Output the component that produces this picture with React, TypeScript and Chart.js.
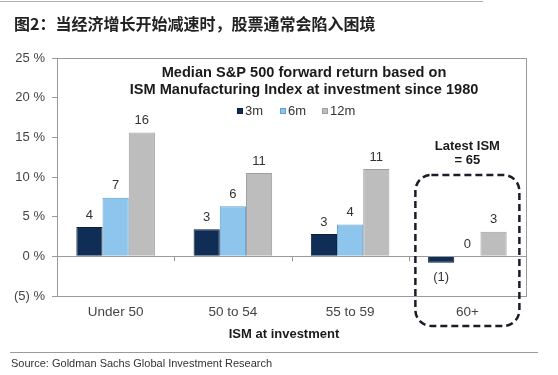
import React, { useEffect, useRef } from "react";
import { Chart, registerables } from "chart.js";

Chart.register(...registerables);

const categories = ["Under 50", "50 to 54", "55 to 59", "60+"];
const seriesNames = ["3m", "6m", "12m"];
const values3m = [3.7, 3.4, 2.8, -0.8];
const values6m = [7.4, 6.3, 4.0, 0];
const values12m = [15.6, 10.5, 11.0, 3.1];
const labels3m = ["4", "3", "3", "(1)"];
const labels6m = ["7", "6", "4", "0"];
const labels12m = ["16", "11", "11", "3"];
const yTicks = [-5, 0, 5, 10, 15, 20, 25];

const headTitle = "图2：当经济增长开始减速时，股票通常会陷入困境";
const chartTitle = ["Median S&P 500 forward return based on", "ISM Manufacturing Index at investment since 1980"];
const xTitle = "ISM at investment";
const calloutText = ["Latest ISM", "= 65"];
const sourceText = "Source: Goldman Sachs Global Investment Research";

const FONT = "'Liberation Sans', Arial, sans-serif";
const fills = ["#0f2d55", "#8ec5ec", "#bdbdbd"];
const borders = ["#0a1f3d", "#5f9fd2", "#9e9e9e"];
const allLabels = [labels3m, labels6m, labels12m];

const decorPlugin = {
  id: "decor",
  beforeDraw(chart: any) {
    const ctx = chart.ctx;
    ctx.save();
    ctx.fillStyle = "#ffffff";
    ctx.fillRect(0, 0, chart.width, chart.height);
    ctx.restore();
  },
  afterDatasetsDraw(chart: any) {
    const ctx = chart.ctx;
    const a = chart.chartArea;
    const yS = chart.scales.y;
    const xS = chart.scales.x;
    const zeroY = yS.getPixelForValue(0);
    ctx.save();
    // plot frame
    ctx.strokeStyle = "#9a9a9a";
    ctx.lineWidth = 1;
    ctx.strokeRect(a.left + 0.5, a.top + 0.5, a.right - a.left, a.bottom - a.top);
    // zero line
    ctx.beginPath();
    ctx.moveTo(a.left, Math.round(zeroY) + 0.5);
    ctx.lineTo(a.right, Math.round(zeroY) + 0.5);
    ctx.stroke();
    // category boundary ticks on zero line
    const n = categories.length;
    const cw = (a.right - a.left) / n;
    for (let i = 1; i < n; i++) {
      const x = Math.round(a.left + cw * i) + 0.5;
      ctx.beginPath();
      ctx.moveTo(x, zeroY);
      ctx.lineTo(x, zeroY + 5);
      ctx.stroke();
    }
    // data labels
    ctx.fillStyle = "#333333";
    ctx.font = `13px ${FONT}`;
    ctx.textAlign = "center";
    ctx.textBaseline = "middle";
    chart.data.datasets.forEach((ds: any, di: number) => {
      const meta = chart.getDatasetMeta(di);
      meta.data.forEach((bar: any, i: number) => {
        const v = ds.data[i];
        const txt = allLabels[di][i];
        if (v < 0) ctx.fillText(txt, bar.x, bar.y + 15);
        else ctx.fillText(txt, bar.x, bar.y - 12);
      });
    });
    // chart title in plot
    ctx.fillStyle = "#1a1a1a";
    ctx.font = `bold 14.6px ${FONT}`;
    ctx.fillText(chartTitle[0], 304, 73);
    ctx.fillText(chartTitle[1], 304, 90);
    // legend
    ctx.font = `13px ${FONT}`;
    ctx.textAlign = "left";
    const legX = [237, 280, 322];
    seriesNames.forEach((s, i) => {
      ctx.fillStyle = fills[i];
      ctx.fillRect(legX[i], 108, 6, 6);
      ctx.strokeStyle = borders[i];
      ctx.strokeRect(legX[i] + 0.5, 108.5, 5, 5);
      ctx.fillStyle = "#333333";
      ctx.fillText(s, legX[i] + 8, 111.5);
    });
    // callout
    ctx.textAlign = "center";
    ctx.fillStyle = "#1a1a1a";
    ctx.font = `bold 13px ${FONT}`;
    const cx = xS.getPixelForValue(3);
    ctx.fillText(calloutText[0], cx, 146);
    ctx.fillText(calloutText[1], cx, 160);
    // dashed rounded box
    ctx.strokeStyle = "#1c1c28";
    ctx.lineWidth = 2.5;
    ctx.setLineDash([7, 4]);
    ctx.beginPath();
    (ctx as any).roundRect(cx - 52, 175, 104, 151, 16);
    ctx.stroke();
    ctx.setLineDash([]);
    // x axis title
    ctx.font = `bold 13px ${FONT}`;
    ctx.fillStyle = "#1a1a1a";
    ctx.fillText(xTitle, 284, 334);
    // header
    ctx.textAlign = "left";
    ctx.font = `bold 16px 'Noto Sans CJK SC', sans-serif`;
    ctx.fillStyle = "#222222";
    ctx.fillText(headTitle, 14, 24);
    // top rule
    ctx.strokeStyle = "#b0b0b0";
    ctx.lineWidth = 1;
    ctx.beginPath();
    ctx.moveTo(0, 1.5);
    ctx.lineTo(483, 1.5);
    ctx.stroke();
    // source rule and text
    ctx.strokeStyle = "#9a9a9a";
    ctx.beginPath();
    ctx.moveTo(10, 352.5);
    ctx.lineTo(538, 352.5);
    ctx.stroke();
    ctx.font = `11px ${FONT}`;
    ctx.fillStyle = "#333333";
    ctx.fillText(sourceText, 11, 364);
    ctx.restore();
  },
};

export default function App() {
  const ref = useRef<HTMLCanvasElement>(null);
  useEffect(() => {
    if (!ref.current) return;
    const chart = new Chart(ref.current, {
      type: "bar",
      data: {
        labels: categories,
        datasets: [values3m, values6m, values12m].map((d, i) => ({
          label: seriesNames[i],
          data: d,
          backgroundColor: fills[i],
          borderColor: borders[i],
          borderWidth: 1,
          barPercentage: 1,
          categoryPercentage: 0.67,
        })),
      },
      options: {
        animation: false,
        responsive: false,
        maintainAspectRatio: false,
        layout: { padding: { left: 0, top: 58, right: 32, bottom: 0 } },
        plugins: { legend: { display: false }, tooltip: { enabled: false }, title: { display: false } },
        scales: {
          x: {
            grid: { display: false, tickLength: 0 },
            border: { display: false },
            ticks: { color: "#444444", font: { family: FONT, size: 13.5 }, padding: 8 },
            afterFit: (s: any) => { s.height = 79; },
          },
          y: {
            min: -5,
            max: 25,
            afterBuildTicks: (s: any) => { s.ticks = yTicks.map((v) => ({ value: v })); },
            grid: { drawOnChartArea: false, tickLength: 5, color: "#9a9a9a" },
            border: { display: true, color: "#9a9a9a" },
            ticks: {
              color: "#444444",
              font: { family: FONT, size: 13 },
              padding: 7,
              callback: (v: any) => (v < 0 ? `(${Math.abs(v)}) %` : `${v} %`),
            },
            afterFit: (s: any) => { s.width = 57; },
          },
        },
      },
      plugins: [decorPlugin],
    });
    return () => chart.destroy();
  }, []);
  return (
    <div style={{ position: "fixed", left: 0, top: 0, width: 558, height: 375, background: "#fff" }}>
      <canvas ref={ref} width={558} height={375} style={{ width: 558, height: 375, display: "block" }} />
    </div>
  );
}
